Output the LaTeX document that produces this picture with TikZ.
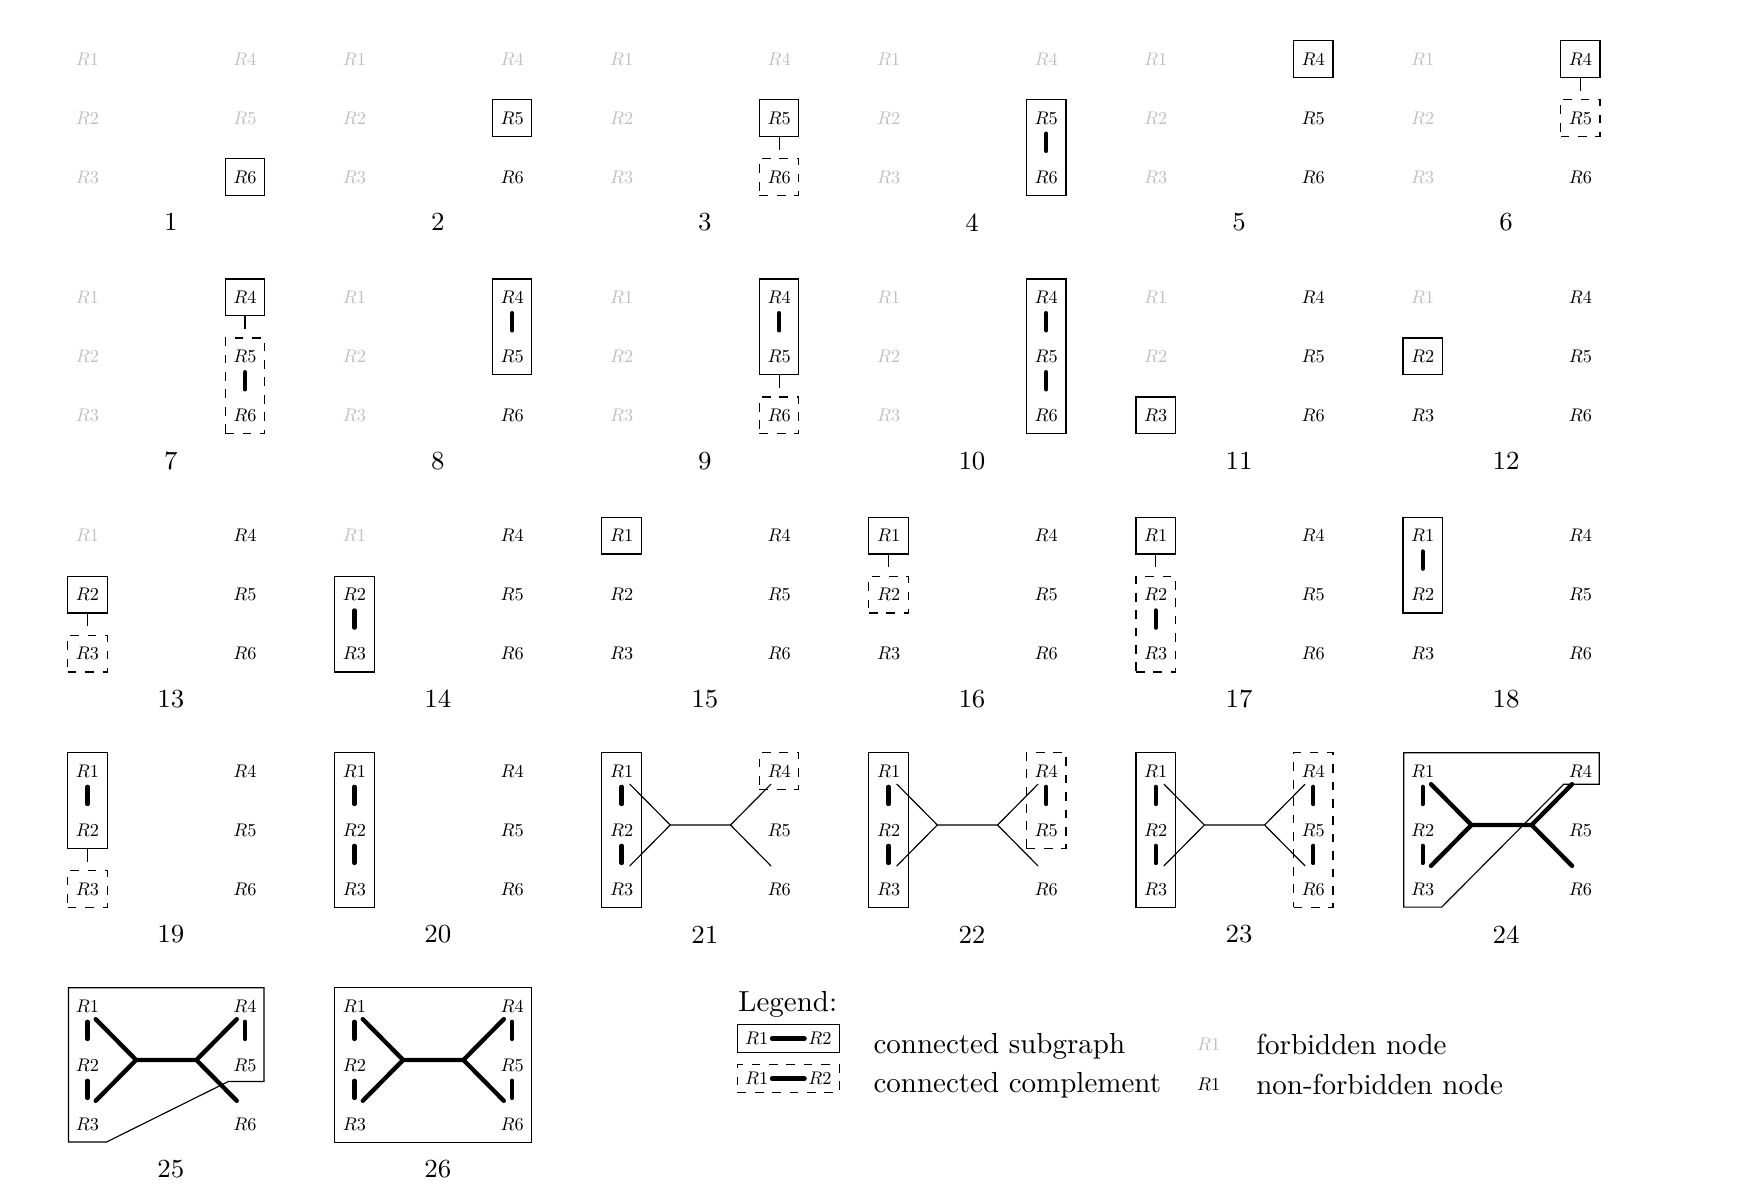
\documentclass[tikz,border=0pt]{standalone}
\usepackage{amsmath,amssymb}
\usepackage{tikz}
\usetikzlibrary{calc,fit}

\begin{document}
\begin{tikzpicture}[
    rn/.style={scale=.63,transform shape,inner sep=2pt},
    sub/.style={draw,inner xsep=1.43pt,inner ysep=2.8pt},
    comp/.style={sub,dashed},
    legbox/.style={draw,inner sep=1.3pt},
    bar/.style={line width=1.5pt,line cap=round,shorten <=0.068cm,shorten >=0.19cm},
    link/.style={shorten >=0.1cm},
    num/.style={font=\small},
    txt/.style={anchor=west}
  ]
  % page frame
  \useasboundingbox (0,0) rectangle (21.26,-14.554);

  % the 26 cases: nodes R1..R6, the first \k of them are forbidden (grey)
  \foreach \p/\k in {1/5,2/4,3/4,4/4,5/3,6/3,7/3,8/3,9/3,10/3,11/2,12/1,13/1,
                     14/1,15/0,16/0,17/0,18/0,19/0,20/0,21/0,22/0,23/0,24/0,25/0,26/0} {
    \pgfmathtruncatemacro\cc{mod(\p-1,6)}
    \pgfmathtruncatemacro\rr{(\p-1)/6}
    \pgfmathsetmacro\x{1.06+3.237*\cc}
    \pgfmathsetmacro\y{{0.713,3.604,6.492,9.345,12.193}[\rr]}
    \foreach \i in {1,...,6} {
      \ifnum\i>\k\relax\def\tc{black}\else\def\tc{black!25}\fi
      \node[rn,text=\tc] (p\p-\i) at ({\x+1.91*(\i>3)},{-\y-0.715*mod(\i-1,3)}) {$R\i$};
    }
    \node[num] (n\p) at (\x+1.01,-\y-1.981) {\p};
  }

  % cases 1--10: subgraphs on the right
  \node[sub,fit=(p1-6)] (b1) {};
  \node[sub,fit=(p2-5)] (b2) {};
  \node[sub,fit=(p3-5)] (b3) {};
  \node[comp,fit=(p3-6)] (c3) {};
  \draw[link] (b3) -- (c3);
  \node[sub,fit=(p4-5)(p4-6)] (b4) {};
  \draw[bar] (p4-5) -- (p4-6);
  \node[sub,fit=(p5-4)] (b5) {};
  \node[sub,fit=(p6-4)] (b6) {};
  \node[comp,fit=(p6-5)] (c6) {};
  \draw[link] (b6) -- (c6);
  \node[sub,fit=(p7-4)] (b7) {};
  \node[comp,fit=(p7-5)(p7-6)] (c7) {};
  \draw[link] (b7) -- (c7);
  \draw[bar] (p7-5) -- (p7-6);
  \node[sub,fit=(p8-4)(p8-5)] (b8) {};
  \draw[bar] (p8-4) -- (p8-5);
  \node[sub,fit=(p9-4)(p9-5)] (b9) {};
  \draw[bar] (p9-4) -- (p9-5);
  \node[comp,fit=(p9-6)] (c9) {};
  \draw[link] (b9) -- (c9);
  \node[sub,fit=(p10-4)(p10-6)] (b10) {};
  \draw[bar] (p10-4) -- (p10-5);
  \draw[bar] (p10-5) -- (p10-6);

  % cases 11--20: subgraphs on the left
  \node[sub,fit=(p11-3)] (b11) {};
  \node[sub,fit=(p12-2)] (b12) {};
  \node[sub,fit=(p13-2)] (b13) {};
  \node[comp,fit=(p13-3)] (c13) {};
  \draw[link] (b13) -- (c13);
  \node[sub,fit=(p14-2)(p14-3)] (b14) {};
  \draw[bar] (p14-2) -- (p14-3);
  \node[sub,fit=(p15-1)] (b15) {};
  \node[sub,fit=(p16-1)] (b16) {};
  \node[comp,fit=(p16-2)] (c16) {};
  \draw[link] (b16) -- (c16);
  \node[sub,fit=(p17-1)] (b17) {};
  \node[comp,fit=(p17-2)(p17-3)] (c17) {};
  \draw[link] (b17) -- (c17);
  \draw[bar] (p17-2) -- (p17-3);
  \node[sub,fit=(p18-1)(p18-2)] (b18) {};
  \draw[bar] (p18-1) -- (p18-2);
  \node[sub,fit=(p19-1)(p19-2)] (b19) {};
  \draw[bar] (p19-1) -- (p19-2);
  \node[comp,fit=(p19-3)] (c19) {};
  \draw[link] (b19) -- (c19);
  \node[sub,fit=(p20-1)(p20-3)] (b20) {};
  \draw[bar] (p20-1) -- (p20-2);
  \draw[bar] (p20-2) -- (p20-3);

  % cases 21--26: left column always connected
  \foreach \p in {21,...,26} {
    \draw[bar] (p\p-1) -- (p\p-2);
    \draw[bar] (p\p-2) -- (p\p-3);
  }
  \foreach \p in {21,22,23} \node[sub,fit=(p\p-1)(p\p-3)] (b\p) {};
  \node[comp,fit=(p21-4)] (c21) {};
  \node[comp,fit=(p22-4)(p22-5)] (c22) {};
  \draw[bar] (p22-4) -- (p22-5);
  \node[comp,fit=(p23-4)(p23-6)] (c23) {};
  \draw[bar] (p23-4) -- (p23-5);
  \draw[bar] (p23-5) -- (p23-6);
  \draw[bar] (p25-4) -- (p25-5);
  \draw[bar] (p26-4) -- (p26-5);
  \draw[bar] (p26-5) -- (p26-6);

  % the trees
  \foreach \p/\w in {21/0.4pt,22/0.4pt,23/0.4pt,24/1.5pt,25/1.5pt,26/1.5pt} {
    \coordinate (jl-\p) at ($(p\p-2)+(0.59,0.06)$);
    \coordinate (jr-\p) at ($(p\p-5)+(-0.59,0.06)$);
    \coordinate (t1-\p) at ($(p\p-1)+(0.1,-0.16)$);
    \coordinate (t3-\p) at ($(p\p-3)+(0.1,0.28)$);
    \coordinate (t4-\p) at ($(p\p-4)+(-0.1,-0.16)$);
    \coordinate (t6-\p) at ($(p\p-6)+(-0.1,0.28)$);
    \draw[line width=\w,line cap=round] (t1-\p) -- (jl-\p) -- (t3-\p)
      (jl-\p) -- (jr-\p) (t4-\p) -- (jr-\p) -- (t6-\p);
  }

  % outlines of 24--26
  \draw ($(p24-1)+(-0.23,0.22)$) -- ($(p24-4)+(0.23,0.22)$) -- ($(p24-4)+(0.23,-0.16)$)
    -- ($(p24-4)+(-0.2,-0.16)$) -- ($(p24-3)+(0.23,-0.22)$) -- ($(p24-3)+(-0.23,-0.22)$) -- cycle;
  \draw ($(p25-1)+(-0.23,0.22)$) -- ($(p25-4)+(0.23,0.22)$) -- ($(p25-5)+(0.23,-0.2)$)
    -- ($(p25-5)+(-0.2,-0.2)$) -- ($(p25-3)+(0.23,-0.22)$) -- ($(p25-3)+(-0.23,-0.22)$) -- cycle;
  \node[sub,fit=(p26-1)(p26-6)] (b26) {};

  % legend
  \node[txt] (leg) at (8.826,-12.18) {Legend:};
  \node[rn] (la1) at (9.173,-12.59) {$R1$};
  \node[rn] (la2) at (9.937,-12.59) {$R2$};
  \draw[bar,line width=1.8pt,shorten <=0pt,shorten >=0pt] (la1) -- (la2);
  \node[legbox,fit=(la1)(la2)] (lb1) {};
  \node[rn] (lc1) at (9.173,-13.075) {$R1$};
  \node[rn] (lc2) at (9.937,-13.075) {$R2$};
  \draw[bar,line width=1.8pt,shorten <=0pt,shorten >=0pt] (lc1) -- (lc2);
  \node[legbox,dashed,fit=(lc1)(lc2)] (lb2) {};
  \node[txt] (ls) at (10.464,-12.68) {connected subgraph};
  \node[txt] (lt) at (10.464,-13.16) {connected complement};
  \node[rn,text=black!25] (lf) at (14.651,-12.663) {$R1$};
  \node[rn] (ln) at (14.651,-13.142) {$R1$};
  \node[txt] (lu) at (15.103,-12.663) {forbidden node};
  \node[txt] (lv) at (15.103,-13.142) {non-forbidden node};
\end{tikzpicture}
\end{document}
